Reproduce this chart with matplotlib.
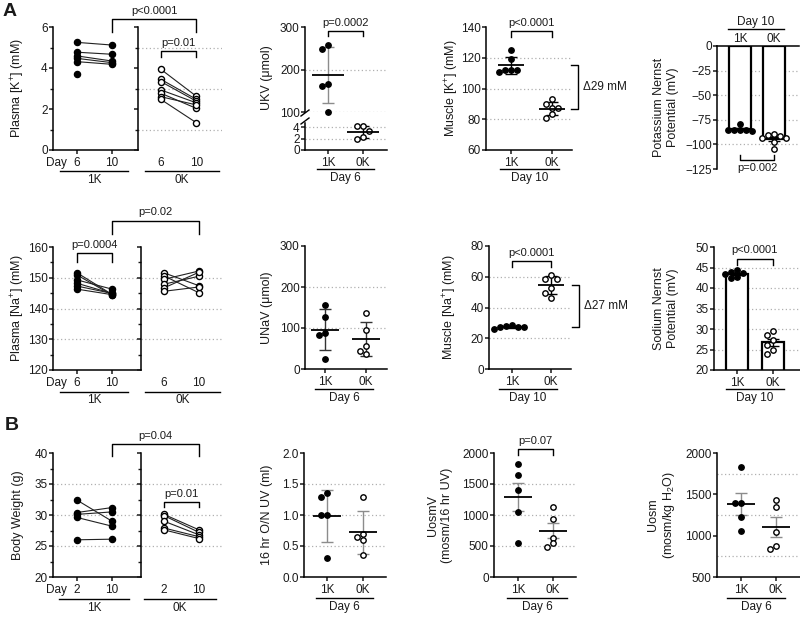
import numpy as np
import matplotlib
matplotlib.use('Agg')
import matplotlib.pyplot as plt
from matplotlib.ticker import FormatStrFormatter

plt.rcParams['font.family'] = ['Liberation Sans', 'DejaVu Sans']
plt.rcParams['mathtext.default'] = 'regular'
plt.rcParams['font.size'] = 8.5
plt.rcParams['axes.linewidth'] = 1.1
plt.rcParams['xtick.major.width'] = 1.1
plt.rcParams['ytick.major.width'] = 1.1
plt.rcParams['ytick.minor.width'] = 1.0
plt.rcParams['text.color'] = '#1a1a1a'
plt.rcParams['xtick.color'] = '#1a1a1a'
plt.rcParams['ytick.color'] = '#1a1a1a'

# ---------------- data ----------------
groups = ['1K', '0K']

# plasma K (mM), day 6 -> day 10
pk_1k_d6 = [5.25, 4.77, 4.59, 4.47, 4.31, 3.71]
pk_1k_d10 = [5.12, 4.67, 4.34, 4.26, 4.18, np.nan]
pk_0k_d6 = [3.94, 3.45, 3.34, 2.93, 2.77, 2.60, 2.47]
pk_0k_d10 = [2.62, 2.47, 2.38, 2.30, 2.03, 2.20, 1.33]

# urinary K (umol), day 6
ukv_1k = [258, 248, 166, 162, 100]
ukv_0k = [4.2, 4.1, 3.3, 2.3, 2.0]

# muscle K (mM), day 10
mk_1k = [125, 119, 112, 112, 112, 111]
mk_0k = [93, 90, 87, 87, 83.5, 81]

# potassium Nernst potential (mV)
kn_1k = [-79, -85, -85, -85, -85.5, -86.5]
kn_0k = [-89.5, -90, -91.5, -93, -94, -97.5, -104.5]

# plasma Na (mM), day 6 -> day 10
pna_1k_d6 = [151.6, 150.9, 149.3, 148.2, 147.3, 146.3]
pna_1k_d10 = [144.6, 144.4, 146.3, 144.9, 144.9, 144.5]
pna_0k_d6 = [151.6, 150.6, 149.5, 147.9, 146.7, 145.6]
pna_0k_d10 = [147.4, 145.1, 152.2, 150.5, 151.8, 147.0]

# urinary Na (umol), day 6
unav_1k = [156, 128, 89, 83, 24]
unav_0k = [136, 95, 56, 44, 37]

# muscle Na (mM), day 10
mna_1k = [27.2, 28.3, 27.0, 27.8, 26.0, 27.0]
mna_0k = [61, 58.5, 58.5, 52.5, 49.5, 46.5]

# sodium Nernst potential (mV)
nan_1k = [44.3, 44.0, 43.6, 43.5, 42.4, 42.6]
nan_0k = [29.6, 28.6, 27.3, 26.0, 24.8, 24.0]

# body weight (g), day 2 -> day 10
bw_1k_d2 = [32.4, 30.4, 30.1, 29.6, 26.0]
bw_1k_d10 = [29.0, 31.2, 30.5, 28.2, 26.1]
bw_0k_d2 = [30.1, 29.9, 29.0, 27.9, 27.6]
bw_0k_d10 = [27.6, 27.2, 26.8, 26.5, 26.2]

# 16 hr overnight urine volume (ml)
uv_1k = [1.35, 1.29, 1.0, 1.0, 0.30]
uv_0k = [1.29, 0.70, 0.65, 0.60, 0.35]

# UosmV (mosm/16 hr UV)
uosmv_1k = [1817, 1645, 1403, 1053, 543]
uosmv_0k = [1134, 935, 634, 543, 489]

# Uosm (mosm/kg H2O)
uosm_1k = [1834, 1400, 1400, 1222, 1056]
uosm_0k = [1431, 1343, 1048, 879, 835]

# ---------------- helpers ----------------
W, H = 800, 617
fig = plt.figure(figsize=(W / 100, H / 100), dpi=100)
GRID = '#b0b0b0'
ERR_GREY = '#8c8c8c'


def add_ax(x0, y0, x1, y1):
    # pixel box (left, top, right, bottom) -> figure fraction
    return fig.add_axes([x0 / W, 1 - y1 / H, (x1 - x0) / W, (y1 - y0) / H])


def px_scale(ax):
    pos = ax.get_position()
    (a, b), (c, d) = ax.get_xlim(), ax.get_ylim()
    return pos.width * W / (b - a), pos.height * H / (d - c)


def setup(ax, xlim, ylim, yticks, grid=(), minor=None, ylabels=True):
    ax.set_xlim(xlim)
    ax.set_ylim(ylim)
    ax.set_yticks(list(yticks))
    if minor is not None:
        ax.set_yticks(list(minor), minor=True)
    if not ylabels:
        ax.set_yticklabels([])
    ax.spines[['top', 'right']].set_visible(False)
    ax.tick_params(which='major', length=3, pad=2, labelsize=8.5)
    ax.tick_params(axis='y', which='major', pad=0.8)
    ax.tick_params(which='minor', length=2)
    for g in grid:
        ax.axhline(g, color=GRID, ls=(0, (1, 2)), lw=0.9, zorder=0)
    ax.patch.set_alpha(0)


def ylab(ax, text, off, yc=0.5):
    w = ax.get_position().width * W
    ax.text(-off / w, yc, text, transform=ax.transAxes, rotation=90,
            ha='center', va='center', fontsize=9)


def cat_x(ax):
    ax.set_xticks([0, 1], groups)
    ax.tick_params(axis='x', length=3, pad=2)


def under(ax, xa, xb, text, dl=20, dt=29, top=False):
    h = ax.get_position().height * H
    tr = ax.get_xaxis_transform()
    yl = 1 + dl / h if top else -dl / h
    yt = 1 + dt / h if top else -dt / h
    ax.plot([xa, xb], [yl, yl], color='k', lw=1.0, transform=tr, clip_on=False)
    ax.text((xa + xb) / 2, yt, text, transform=tr, ha='center', va='center', fontsize=8.5)


def swarm(ax, vals, d=6.0):
    sx, sy = px_scale(ax)
    vals = np.asarray(vals, float)
    offs = np.zeros(len(vals))
    placed = []
    for i in np.argsort(-vals):
        y = vals[i] * sy
        x = 0.0
        for k in (0, -1, 1, -2, 2, -3, 3):
            x = k * d
            if all((x - p) ** 2 + (y - q) ** 2 >= 0.8 * d * d for p, q in placed):
                break
        placed.append((x, y))
        offs[i] = x / sx
    return offs


def dots(ax, x, vals, filled, ms=3.9):
    offs = swarm(ax, vals)
    ax.plot(x + offs, vals, 'o', ms=ms, mfc='k' if filled else 'white', mec='k',
            mew=1.0, ls='none', clip_on=False, zorder=4)


def summary(ax, x, vals, err='sd', color='k', half=14, cap=4.5):
    vals = np.asarray(vals, float)
    m = vals.mean()
    s = vals.std(ddof=1)
    if err == 'sem':
        s /= np.sqrt(len(vals))
    sx, _ = px_scale(ax)
    ax.errorbar(x, m, yerr=s, fmt='none', ecolor=color, elinewidth=1.0,
                capsize=cap, capthick=1.0, zorder=3)
    ax.plot([x - half / sx, x + half / sx], [m, m], color='k', lw=1.3, zorder=5,
            solid_capstyle='butt')
    return m


def bars(ax, vals_list, fills, width):
    for x, vals, f in zip((0, 1), vals_list, fills):
        vals = np.asarray(vals, float)
        m = vals.mean()
        sem = vals.std(ddof=1) / np.sqrt(len(vals))
        ax.bar(x, m, width=width, color='white', ec='k', lw=1.6, zorder=2)
        ax.errorbar(x, m, yerr=sem, fmt='none', ecolor='k', elinewidth=1.0,
                    capsize=4, capthick=1.0, zorder=3)
        dots(ax, x, vals, f)


def bracket(ax, xa, xb, ybar, ya, yb=None, text='', below=False):
    yb = ya if yb is None else yb
    ax.plot([xa, xa, xb, xb], [ya, ybar, ybar, yb], color='k', lw=1.0,
            clip_on=False, zorder=5)
    ax.annotate(text, ((xa + xb) / 2, ybar), xytext=(0, -2 if below else 2.5),
                textcoords='offset points', ha='center',
                va='top' if below else 'bottom', fontsize=8, annotation_clip=False)


def delta(ax, xa, xb, ya, yb, text):
    ax.plot([xa, xb, xb, xa], [ya, ya, yb, yb], color='k', lw=1.0, clip_on=False)
    ax.annotate(text, (xb, (ya + yb) / 2), xytext=(3.5, 0), textcoords='offset points',
                ha='left', va='center', fontsize=8.5, annotation_clip=False)


def x_in(ax_from, x, ax_to):
    disp = ax_from.transData.transform((x, 0))
    return ax_to.transData.inverted().transform(disp)[0]


def paired(ax, a, b, filled):
    for u, v in zip(a, b):
        ax.plot([0, 1], [u, v], color='#222', lw=0.8, zorder=2)
    for x, vals in ((0, a), (1, b)):
        ax.plot(np.full(len(vals), x), vals, 'o', ms=4.4, mfc='k' if filled else 'white',
                mec='k', mew=1.0, ls='none', clip_on=False, zorder=4)


def pair_axes(y0, y1, xsplit, x_end, lims, ylim, yticks, minor, grid_l, grid_r, days):
    axL = add_ax(53, y0, xsplit, y1)
    axR = add_ax(xsplit, y0, x_end, y1)
    setup(axL, lims[0], ylim, yticks, grid_l, minor)
    setup(axR, lims[1], ylim, yticks, grid_r, minor, ylabels=False)
    axR.spines['bottom'].set_visible(False)
    for ax in (axL, axR):
        ax.set_xticks([0, 1], days)
    axL.tick_params(axis='x', length=3, pad=2)
    axR.tick_params(axis='x', length=0, pad=5)
    h = axL.get_position().height * H
    axL.text(-0.3, -13 / h, 'Day', transform=axL.get_xaxis_transform(),
             ha='right', va='center', fontsize=8.5)
    return axL, axR


# ================= Row 1 =================
# Plasma K
axL, axR = pair_axes(27, 150, 138, 222, [(-0.686, 1.743), (-0.64, 1.72)], (0, 6),
                     [0, 2, 4, 6], [1, 3, 5], [], [1, 3, 5], ['6', '10'])
paired(axL, pk_1k_d6, pk_1k_d10, True)
paired(axR, pk_0k_d6, pk_0k_d10, False)
ylab(axL, 'Plasma [K$^{+}$] (mM)', 35)
under(axL, -0.49, 1.46, '1K', 21, 30)
under(axR, -0.44, 1.64, '0K', 21, 30)
bracket(axL, 1, x_in(axR, 1, axL), 6.39, 5.76, text='p<0.0001')
bracket(axR, 0, 1, 4.83, 4.54, text='p=0.01')

# UKV (broken axis)
axT = add_ax(305, 27, 387, 112)
axB = add_ax(305, 123, 387, 150)
setup(axT, (-0.657, 1.686), (100, 300), [100, 200, 300], [100, 200])
setup(axB, (-0.657, 1.686), (0, 4.7), [0, 2, 4], [2, 4])
axT.spines['bottom'].set_visible(False)
axT.set_xticks([])
cat_x(axB)
dots(axT, 0, ukv_1k, True)
summary(axT, 0, ukv_1k, color=ERR_GREY, half=16)
dots(axB, 1, ukv_0k, False)
summary(axB, 1, ukv_0k, half=16)
wT, hT = 82, 85
axT.plot([-4 / wT, 4 / wT], [-4 / hT, 2 / hT], color='k', lw=1.0, transform=axT.transAxes, clip_on=False)
axB.plot([-4 / wT, 4 / wT], [1 - 1 / 27, 1 + 5 / 27], color='k', lw=1.0, transform=axB.transAxes, clip_on=False)
ylab(axT, 'UKV (μmol)', 38, yc=0.4)
under(axB, -0.31, 1.31, 'Day 6', 19, 28)
bracket(axT, 0, 1, 290.6, 278.8, text='p=0.0002')

# Muscle K
ax = add_ax(486, 27, 572, 150)
setup(ax, (-0.61, 1.49), (60, 140), range(60, 141, 20), [80, 100, 120])
cat_x(ax)
dots(ax, 0, mk_1k, True)
dots(ax, 1, mk_0k, False)
m1 = summary(ax, 0, mk_1k, half=13)
m0 = summary(ax, 1, mk_0k, half=13)
ylab(ax, 'Muscle [K$^{+}$] (mM)', 34)
under(ax, -0.27, 1.17, 'Day 10', 19, 28)
bracket(ax, 0, 1, 137.4, 133.5, text='p<0.0001')
delta(ax, 1.46, 1.63, m1, m0, 'Δ29 mM')

# Potassium Nernst
ax = add_ax(717, 46, 799, 169)
setup(ax, (-0.676, 1.735), (-125, 0), range(-125, 1, 25), [-25, -50, -75, -100])
ax.spines['bottom'].set_visible(False)
ax.spines['top'].set_visible(True)
ax.xaxis.tick_top()
ax.set_xticks([0, 1], groups)
ax.tick_params(axis='x', length=0, pad=1)
bars(ax, [kn_1k, kn_0k], [True, False], 0.65)
ylab(ax, 'Potassium Nernst\nPotential (mV)', 51)
under(ax, -0.35, 1.29, 'Day 10', 17, 24, top=True)
bracket(ax, 0, 1, -116, -110.7, text='p=0.002', below=True)

# ================= Row 2 =================
# Plasma Na
axL, axR = pair_axes(247, 370, 141, 224, [(-0.686, 1.829), (-0.657, 1.714)], (120, 160),
                     range(120, 161, 10), range(125, 160, 10), [130, 140, 150],
                     [130, 140, 150], ['6', '10'])
paired(axL, pna_1k_d6, pna_1k_d10, True)
paired(axR, pna_0k_d6, pna_0k_d10, False)
ylab(axL, 'Plasma [Na$^{+}$] (mM)', 35)
under(axL, -0.49, 1.46, '1K', 22, 30)
under(axR, -0.54, 1.6, '0K', 22, 30)
bracket(axL, 0, 1, 158.0, 155.1, text='p=0.0004')
bracket(axL, 1, x_in(axR, 1, axL), 168.5, 164.2, text='p=0.02')

# UNaV
ax = add_ax(305, 246, 387, 369)
setup(ax, (-0.49, 1.51), (0, 300), [0, 100, 200, 300], [100, 200])
cat_x(ax)
dots(ax, 0, unav_1k, True)
dots(ax, 1, unav_0k, False)
summary(ax, 0, unav_1k, color='#333')
summary(ax, 1, unav_0k, color='#333')
ylab(ax, 'UNaV (μmol)', 38)
under(ax, -0.24, 1.17, 'Day 6', 20, 29)

# Muscle Na
ax = add_ax(489, 246, 571, 369)
setup(ax, (-0.59, 1.51), (0, 80), range(0, 81, 20), [20, 40, 60])
cat_x(ax)
dots(ax, 0, mna_1k, True)
dots(ax, 1, mna_0k, False)
m1 = summary(ax, 0, mna_1k, half=13)
m0 = summary(ax, 1, mna_0k, half=13)
ylab(ax, 'Muscle [Na$^{+}$] (mM)', 39)
under(ax, -0.33, 1.15, 'Day 10', 20, 29)
bracket(ax, 0, 1, 70.2, 66.3, text='p<0.0001')
delta(ax, 1.54, 1.72, m0, m1, 'Δ27 mM')

# Sodium Nernst
ax = add_ax(714, 247, 800, 370)
setup(ax, (-0.648, 1.77), (20, 50), range(20, 51, 5), [25, 30, 35, 40, 45])
cat_x(ax)
bars(ax, [nan_1k, nan_0k], [True, False], 0.62)
ylab(ax, 'Sodium Nernst\nPotential (mV)', 48)
under(ax, -0.31, 1.32, 'Day 10', 19, 28)
bracket(ax, 0, 1, 47.1, 45.6, text='p<0.0001')

# ================= Row 3 =================
# Body weight
axL, axR = pair_axes(453, 577, 141, 224, [(-0.686, 1.829), (-0.657, 1.714)], (20, 40),
                     range(20, 41, 5), [22.5, 27.5, 32.5, 37.5], [25, 30, 35],
                     [25, 30, 35], ['2', '10'])
paired(axL, bw_1k_d2, bw_1k_d10, True)
paired(axR, bw_0k_d2, bw_0k_d10, False)
ylab(axL, 'Body Weight (g)', 35)
under(axL, -0.51, 1.49, '1K', 22, 31)
under(axR, -0.57, 1.49, '0K', 22, 31)
bracket(axL, 1, x_in(axR, 1, axL), 41.45, 39.5, text='p=0.04')
bracket(axR, 0, 1, 32.1, 31.3, text='p=0.01')

# 16 hr O/N UV
ax = add_ax(304, 453, 386, 577)
setup(ax, (-0.64, 1.64), (0, 2), [0, 0.5, 1.0, 1.5, 2.0], [0.5, 1.0, 1.5])
ax.yaxis.set_major_formatter(FormatStrFormatter('%.1f'))
cat_x(ax)
dots(ax, 0, uv_1k, True)
dots(ax, 1, uv_0k, False)
summary(ax, 0, uv_1k, color=ERR_GREY)
summary(ax, 1, uv_0k, color=ERR_GREY)
ylab(ax, '16 hr O/N UV (ml)', 37)
under(ax, -0.31, 1.28, 'Day 6', 21, 30)

# UosmV
ax = add_ax(494, 453, 576, 577)
setup(ax, (-0.686, 1.657), (0, 2000), range(0, 2001, 500), [500, 1000, 1500])
cat_x(ax)
dots(ax, 0, uosmv_1k, True)
dots(ax, 1, uosmv_0k, False)
summary(ax, 0, uosmv_1k, err='sem', color=ERR_GREY)
summary(ax, 1, uosmv_0k, err='sem', color=ERR_GREY)
ylab(ax, 'UosmV\n(mosm/16 hr UV)', 54)
under(ax, -0.31, 1.4, 'Day 6', 21, 30)
bracket(ax, 0, 1, 2064, 1968, text='p=0.07')

# Uosm
ax = add_ax(717, 453, 800, 577)
setup(ax, (-0.686, 1.686), (500, 2000), range(500, 2001, 500), [750, 1250, 1750])
cat_x(ax)
dots(ax, 0, uosm_1k, True)
dots(ax, 1, uosm_0k, False)
summary(ax, 0, uosm_1k, err='sem', color=ERR_GREY)
summary(ax, 1, uosm_0k, err='sem', color=ERR_GREY)
ylab(ax, 'Uosm\n(mosm/kg H$_2$O)', 55)
under(ax, -0.4, 1.26, 'Day 6', 21, 30)

# panel letters
fig.text(10 / W, 1 - 12 / H, 'A', fontsize=14, weight='bold', ha='center', va='center')
fig.text(12 / W, 1 - 425 / H, 'B', fontsize=14, weight='bold', ha='center', va='center')

fig.savefig('out.png', dpi=100)
